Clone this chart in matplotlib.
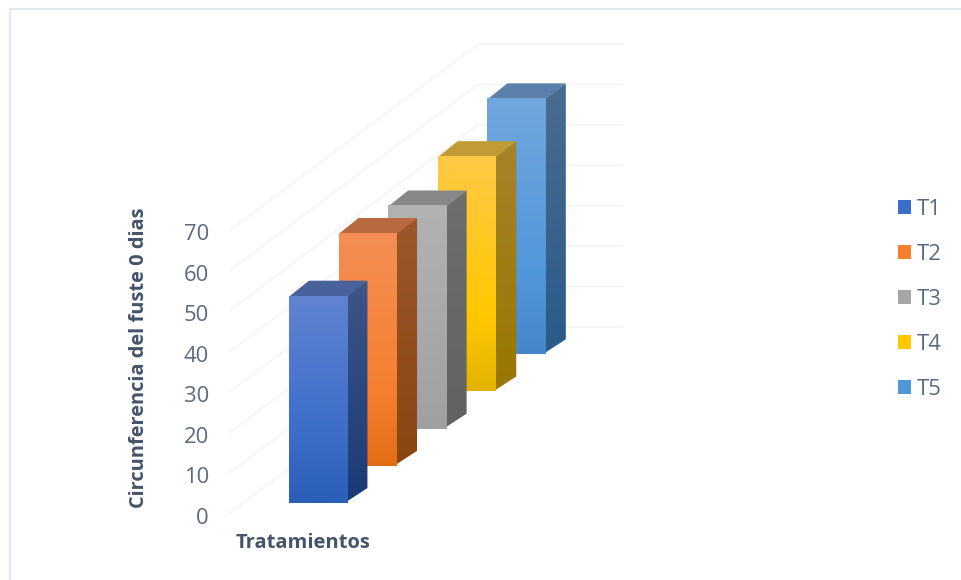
import numpy as np
import matplotlib
matplotlib.use("Agg")
import matplotlib.pyplot as plt
from matplotlib.colors import LinearSegmentedColormap
from matplotlib.patches import Polygon, Patch

# Chart data
categories = ["T1", "T2", "T3", "T4", "T5"]
circumference = [51.3, 57.6, 55.2, 58.2, 63.3]
value_ticks = [0, 10, 20, 30, 40, 50, 60, 70]
y_title = "Circunferencia del fuste 0 dias"
x_title = "Tratamientos"

# Oblique projection of the 3D chart box onto the canvas
ORIGIN_X, ORIGIN_Y = 230.0, 513.0
UNIT_Y = 283.0 / 70.0
DEPTH_DX, DEPTH_DY = 49.6, -37.2
WALL_WIDTH = 145.0
BAR_LEFT, BAR_WIDTH = 45.7, 58.5
BAR_FRONT, BAR_DEPTH = 0.27, 0.40


def project(lateral, depth, value):
    return (ORIGIN_X + lateral + depth * DEPTH_DX,
            ORIGIN_Y + depth * DEPTH_DY - value * UNIT_Y)


# Face shading: front top / front middle / front bottom, side top / bottom, cap
shades = {
    "T1": ("#6184d2", "#3b6dc9", "#2c5fb9", "#3d5688", "#1b3a76", "#4a629b"),
    "T2": ("#f48e54", "#f57f2f", "#e36c13", "#9c572c", "#8b4510", "#b9693f"),
    "T3": ("#b2b2b2", "#a6a6a6", "#a0a0a0", "#6e6e6e", "#626262", "#878787"),
    "T4": ("#ffc947", "#ffc800", "#e2b200", "#a6832a", "#997700", "#c09b36"),
    "T5": ("#72a6de", "#5097d9", "#4687c9", "#4a6c92", "#2a5b89", "#5a80ab"),
}

plt.rcParams["font.family"] = ["Open Sans", "DejaVu Sans"]
fig = plt.figure(figsize=(9.62, 5.80), dpi=100, facecolor="white")
ax = fig.add_axes([0, 0, 1, 1])
ax.set_xlim(0, 962)
ax.set_ylim(580, 0)
ax.axis("off")

# Picture frame along the top and left edges
ax.plot([10, 10, 962], [580, 9, 9], color="#e3e7ef", lw=1.6, zorder=1)

# Floor-to-wall gridlines for each value level
n_cells = len(categories)
for tick in value_ticks:
    x0, y0 = project(0, 0, tick)
    x1, y1 = project(0, n_cells, tick)
    x2, y2 = project(WALL_WIDTH, n_cells, tick)
    ax.plot([x0, x1, x2], [y0, y1, y2], color="#f2f2f2", lw=0.9, zorder=1)
    ax.text(209, y0 + 5, str(tick), ha="right", va="center",
            fontsize=15.8, color="#596a80", zorder=5)


def shaded_face(corners, top_y, bottom_y, stops, z):
    """Fill a polygon with a vertical colour ramp running from bar top to base."""
    cmap = LinearSegmentedColormap.from_list("face", stops)
    xs = [c[0] for c in corners]
    ramp = np.linspace(0, 1, 256).reshape(-1, 1)
    img = ax.imshow(ramp, cmap=cmap, aspect="auto", interpolation="bilinear",
                    extent=(min(xs), max(xs), bottom_y, top_y), zorder=z)
    clip = Polygon(corners, closed=True, transform=ax.transData,
                   facecolor="none", edgecolor="none")
    ax.add_patch(clip)
    img.set_clip_path(clip)


# Bars are painted from the back row to the front row
for i in reversed(range(n_cells)):
    name, value = categories[i], circumference[i]
    front_top, front_mid, front_bot, side_top, side_bot, cap = shades[name]
    z = 10 + (n_cells - i)
    near = i + BAR_FRONT
    far = near + BAR_DEPTH
    l, r = BAR_LEFT, BAR_LEFT + BAR_WIDTH

    a = project(l, near, 0)
    b = project(r, near, 0)
    c = project(r, near, value)
    d = project(l, near, value)
    e = project(r, far, 0)
    f = project(r, far, value)
    g = project(l, far, value)

    # The side and cap run slightly under the front face so no seam shows
    b_in = (b[0] - 1.5, b[1] - 1.0)
    c_in = (c[0] - 1.5, c[1] + 1.0)
    shaded_face([b_in, e, f, c_in], f[1], b[1], [side_top, side_bot], z)
    ax.add_patch(Polygon([(d[0], d[1] + 1.0), (c[0], c[1] + 1.0), f, g], closed=True,
                         facecolor=cap, edgecolor="none", zorder=z + 0.1))
    shaded_face([a, b, c, d], d[1], a[1],
                [(0, front_top), (0.68, front_mid), (1, front_bot)], z + 0.2)

ax.set_xlim(0, 962)
ax.set_ylim(580, 0)

# Axis titles
ax.text(139, 357.5, y_title, rotation=90, ha="center", va="center",
        fontsize=14.4, fontweight="bold", color="#44546a", zorder=5)
ax.text(303.5, 543, x_title, ha="center", va="center",
        fontsize=14.5, fontweight="bold", color="#44546a", zorder=5)

# Legend
handles = [Patch(facecolor=shades[name][1], edgecolor="none", label=name)
           for name in categories]
ax.legend(handles=handles, loc="upper left", bbox_to_anchor=(889 / 962, 1 - 190 / 580),
          frameon=False, fontsize=15.8, labelcolor="#596a80", handlelength=0.6,
          handleheight=0.6, handletextpad=0.27, labelspacing=1.095,
          borderpad=0.4, borderaxespad=0)

fig.savefig("out.png", dpi=100, facecolor="white")
